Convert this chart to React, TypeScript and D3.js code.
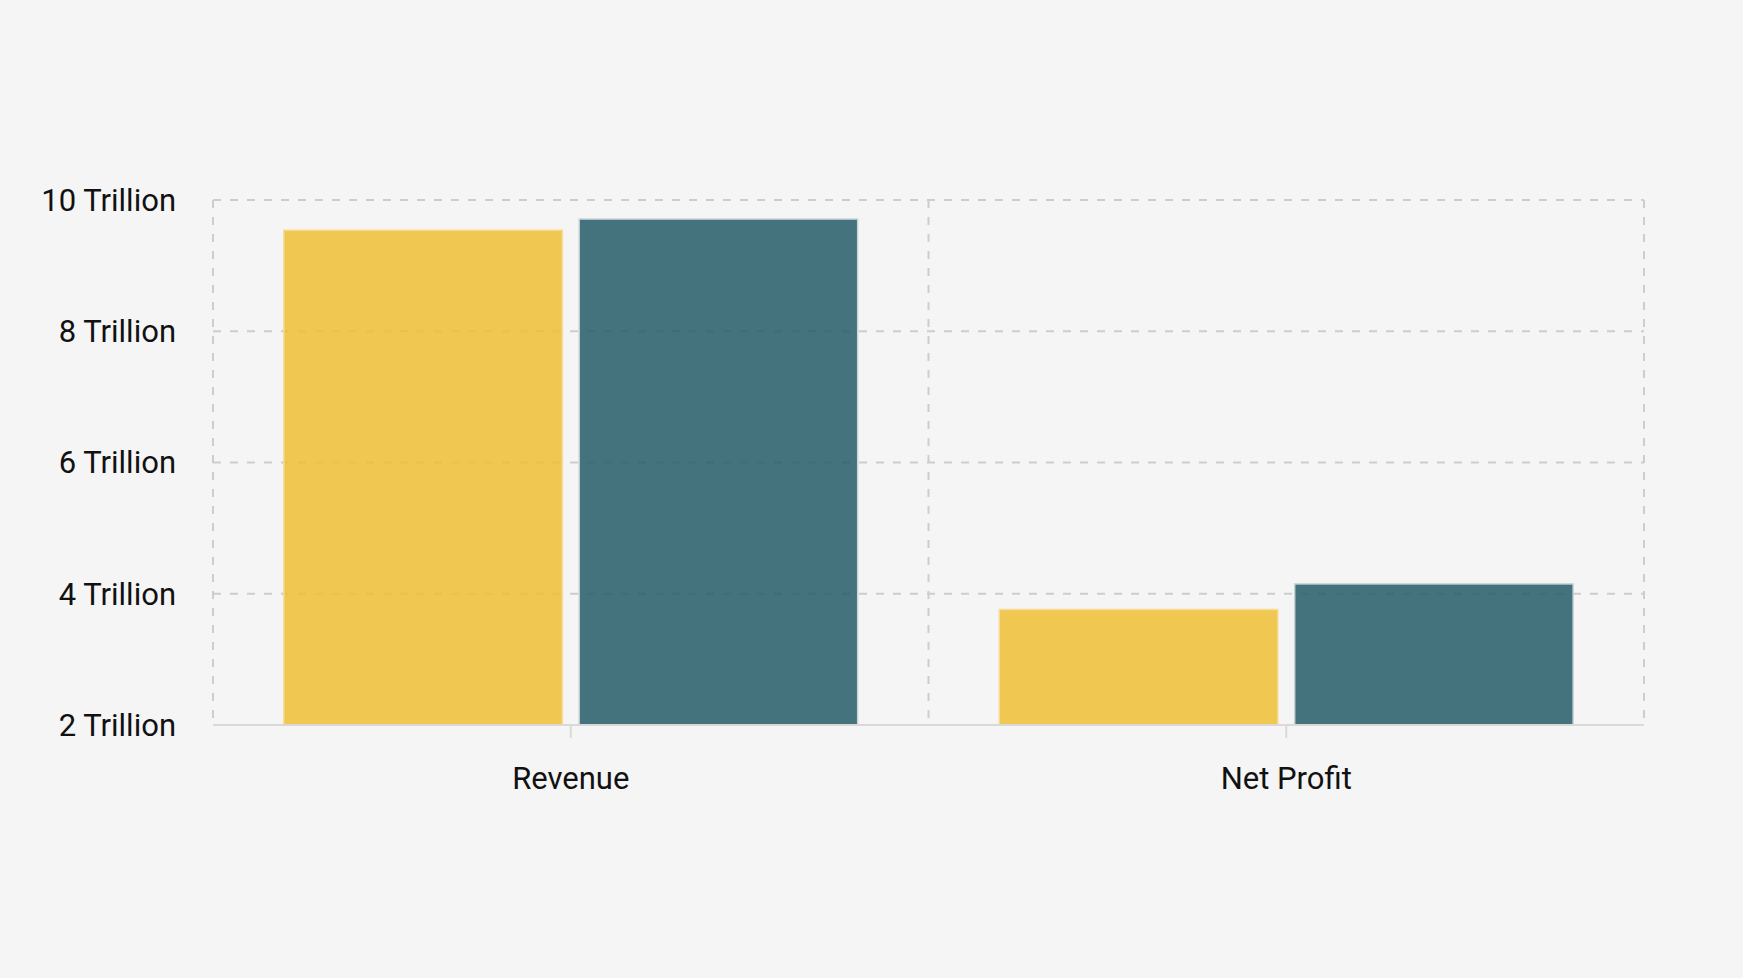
import React from "react";
import * as d3 from "d3";

const categories = ["Revenue", "Net Profit"];
const seriesNames = ["Previous Year", "Current Year"];
// values in trillions, one array per series, same order as categories
const previousYear = [9.54, 3.76];
const currentYear = [9.71, 4.15];
const yTicks = [2, 4, 6, 8, 10];
const seriesColors = ["#efbe34", "#245b67"];
const seriesStrokes = ["#f6dc94", "#c9d4d6"];

const width = 1743;
const height = 978;
const margin = { top: 200, right: 99, bottom: 253, left: 213 };

const App: React.FC = () => {
  const plotW = width - margin.left - margin.right;
  const plotH = height - margin.top - margin.bottom;

  const x0 = d3.scaleBand<string>().domain(categories).range([0, plotW]).padding(0);
  const groupW = x0.bandwidth() * 0.802;
  const x1 = d3
    .scaleBand<string>()
    .domain(seriesNames)
    .range([0, groupW])
    .paddingInner(0.057)
    .paddingOuter(0);
  const y = d3.scaleLinear().domain([2, 10]).range([plotH, 0]);

  const values = [previousYear, currentYear];
  const font = "Roboto, 'Noto Sans', sans-serif";
  const gridColor = "#cdcdcd";

  return (
    <svg
      width={width}
      height={height}
      style={{ position: "absolute", left: 0, top: 0, background: "#f5f5f5" }}
    >
      <rect width={width} height={height} fill="#f5f5f5" />
      <g transform={`translate(${margin.left},${margin.top})`}>
        {/* horizontal grid */}
        {yTicks.slice(1).map(t => (
          <line
            key={"h" + t}
            x1={0}
            x2={plotW}
            y1={y(t)}
            y2={y(t)}
            stroke={gridColor}
            strokeWidth={2}
            strokeDasharray="8,9"
          />
        ))}
        {/* vertical grid at category edges */}
        {[0, ...categories.map(c => (x0(c) ?? 0) + x0.bandwidth())].map((v, i) => (
          <line
            key={"v" + i}
            x1={v}
            x2={v}
            y1={0}
            y2={plotH}
            stroke={gridColor}
            strokeWidth={2}
            strokeDasharray="8,9"
          />
        ))}

        {/* bars, slightly see-through so the grid shows faintly */}
        {categories.map((c, ci) => {
          const gx = (x0(c) ?? 0) + (x0.bandwidth() - groupW) / 2;
          return (
            <g key={c} transform={`translate(${gx},0)`}>
              {seriesNames.map((s, si) => (
                <rect
                  key={s}
                  x={x1(s) ?? 0}
                  y={y(values[si][ci])}
                  width={x1.bandwidth()}
                  height={plotH - y(values[si][ci])}
                  fill={seriesColors[si]}
                  fillOpacity={0.85}
                  stroke={seriesStrokes[si]}
                  strokeWidth={1.5}
                />
              ))}
            </g>
          );
        })}

        {/* x axis */}
        <line x1={0} x2={plotW} y1={plotH} y2={plotH} stroke="#d9d9d9" strokeWidth={2} />
        {categories.map(c => {
          const cx = (x0(c) ?? 0) + x0.bandwidth() / 2;
          return (
            <g key={"xt" + c}>
              <line x1={cx} x2={cx} y1={plotH} y2={plotH + 13} stroke="#d9d9d9" strokeWidth={2} />
              <text
                x={cx}
                y={plotH + 53}
                dy="0.35em"
                textAnchor="middle"
                fontFamily={font}
                fontSize={31}
                fill="#111"
              >
                {c}
              </text>
            </g>
          );
        })}

        {/* y labels */}
        {yTicks.map(t => (
          <text
            key={"yt" + t}
            x={-37}
            y={y(t)}
            dy="0.35em"
            textAnchor="end"
            fontFamily={font}
            fontSize={31}
            fill="#111"
          >
            {`${t} Trillion`}
          </text>
        ))}
      </g>
    </svg>
  );
};

export default App;
